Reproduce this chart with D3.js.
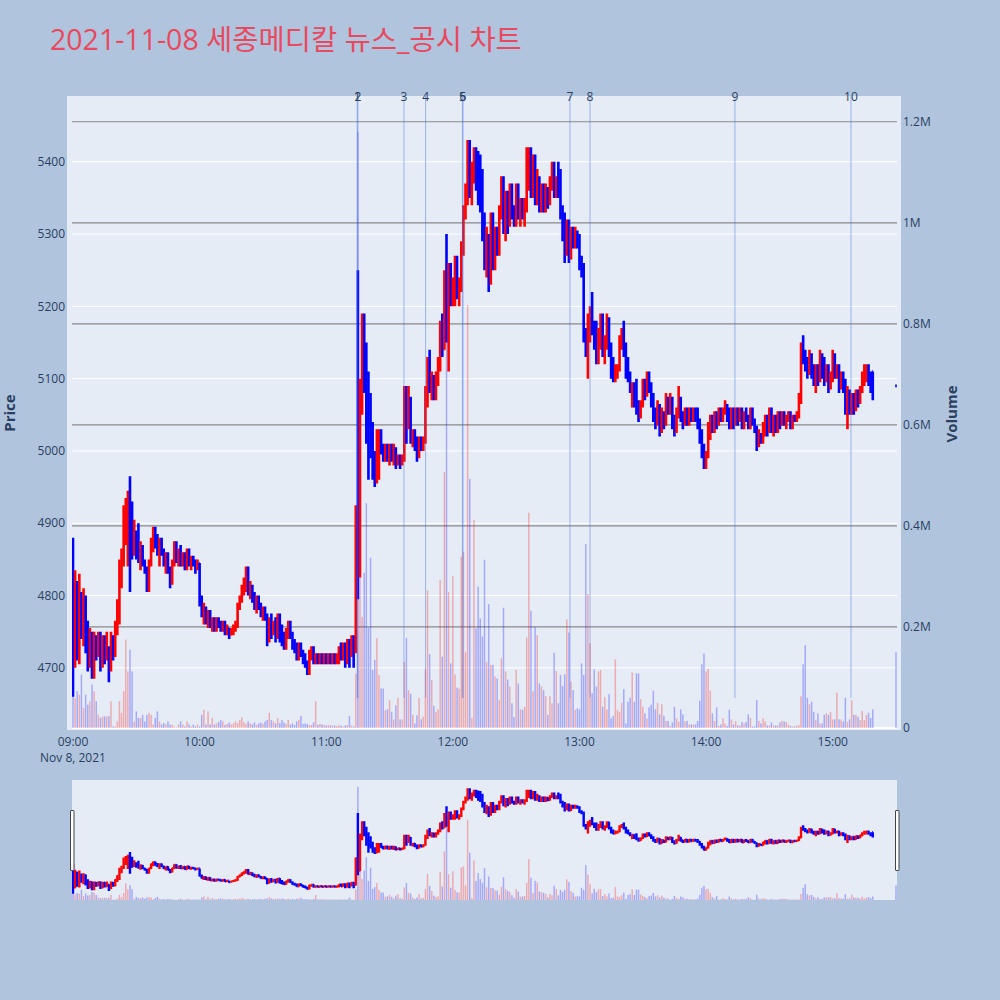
<!DOCTYPE html>
<html>
<head>
<meta charset="utf-8">
<script src="https://cdn.jsdelivr.net/npm/d3@7"></script>
<style>
  body { margin: 0; background: #b0c4de; }
  svg { display: block; }
  text { font-family: "Open Sans", "Noto Sans CJK KR", sans-serif; }
</style>
</head>
<body>
<svg id="chart" width="1000" height="1000"></svg>
<script>
const titleText = "2021-11-08 세종메디칼 뉴스_공시 차트";
const tradeDate = "2021-11-08";
const firstMinute = "09:00";
const closingAuction = "15:30";

// one row per minute from 09:00: [open, high, low, close]
const ohlc = [
  [4875,4880,4660,4705],[4705,4835,4700,4815],[4815,4820,4710,4730],[4730,4830,4705,4800],[4800,4805,4740,4760],
  [4760,4810,4730,4795],[4795,4800,4720,4735],[4735,4765,4695,4705],[4705,4755,4700,4745],[4745,4750,4685,4700],
  [4700,4750,4685,4740],[4740,4745,4710,4720],[4720,4750,4715,4745],[4745,4750,4695,4705],[4705,4745,4700,4740],
  [4740,4745,4705,4715],[4715,4750,4710,4725],[4725,4730,4680,4700],[4700,4750,4695,4740],[4740,4745,4710,4720],
  [4720,4765,4715,4760],[4760,4795,4745,4790],[4790,4850,4760,4830],[4830,4865,4810,4855],[4855,4925,4840,4915],
  [4915,4935,4870,4925],[4925,4945,4840,4935],[4935,4965,4805,4890],[4890,4930,4850,4870],[4870,4905,4855,4880],
  [4880,4890,4850,4860],[4860,4900,4845,4850],[4850,4875,4835,4865],[4865,4870,4840,4845],[4845,4850,4830,4835],
  [4835,4840,4805,4815],[4815,4850,4805,4845],[4845,4880,4840,4875],[4875,4895,4860,4890],[4890,4895,4865,4870],
  [4870,4885,4855,4860],[4860,4880,4840,4875],[4875,4880,4855,4860],[4860,4865,4840,4845],[4845,4860,4830,4855],
  [4855,4860,4830,4835],[4835,4840,4810,4820],[4820,4850,4815,4845],[4845,4875,4840,4870],[4870,4875,4845,4850],
  [4850,4865,4840,4860],[4860,4870,4840,4845],[4845,4860,4840,4855],[4855,4860,4835,4840],[4840,4865,4835,4860],
  [4860,4865,4840,4845],[4845,4855,4835,4850],[4850,4855,4840,4845],[4845,4850,4830,4840],[4840,4850,4835,4845],
  [4845,4845,4785,4790],[4790,4800,4770,4775],[4775,4790,4760,4780],[4780,4785,4760,4765],[4765,4780,4755,4775],
  [4775,4780,4755,4760],[4760,4770,4750,4765],[4765,4770,4750,4755],[4755,4770,4750,4765],[4765,4770,4755,4760],
  [4760,4765,4750,4755],[4755,4765,4750,4760],[4760,4765,4745,4750],[4750,4760,4745,4755],[4755,4755,4740,4745],
  [4745,4755,4745,4750],[4750,4760,4745,4755],[4755,4765,4750,4760],[4760,4790,4755,4785],[4785,4800,4780,4795],
  [4795,4815,4790,4810],[4810,4825,4800,4820],[4820,4840,4805,4830],[4830,4840,4800,4805],[4805,4820,4795,4810],
  [4810,4815,4790,4795],[4795,4805,4780,4790],[4790,4800,4775,4795],[4795,4800,4780,4785],[4785,4790,4770,4775],
  [4775,4785,4765,4780],[4780,4785,4765,4770],[4770,4775,4730,4740],[4740,4770,4735,4765],[4765,4775,4740,4750],
  [4750,4765,4745,4760],[4760,4770,4735,4745],[4745,4775,4740,4770],[4770,4775,4735,4740],[4740,4760,4730,4735],
  [4735,4750,4725,4730],[4730,4755,4725,4750],[4750,4765,4740,4760],[4760,4765,4740,4745],[4745,4750,4725,4730],
  [4730,4740,4720,4725],[4725,4735,4710,4715],[4715,4735,4710,4730],[4730,4735,4715,4720],[4720,4725,4705,4710],
  [4710,4720,4700,4705],[4705,4710,4690,4695],[4695,4725,4690,4720],[4720,4730,4710,4725],[4725,4730,4705,4710],
  [4710,4720,4705,4715],[4715,4720,4705,4710],[4710,4720,4705,4715],[4715,4720,4705,4710],[4710,4720,4705,4715],
  [4715,4720,4705,4710],[4710,4720,4705,4715],[4715,4720,4705,4710],[4710,4720,4705,4715],[4715,4720,4705,4710],
  [4710,4720,4705,4715],[4715,4730,4705,4725],[4725,4735,4710,4715],[4715,4735,4710,4730],[4730,4735,4700,4710],
  [4710,4740,4705,4735],[4735,4740,4700,4720],[4720,4745,4715,4740],[4740,4745,4700,4725],[4725,4925,4720,4920],
  [4920,5250,4795,4830],[4830,5100,4825,5090],[5090,5190,5050,5150],[5150,5190,5080,5100],[5100,5150,5010,5040],
  [5040,5110,4960,5000],[5060,5080,4990,5010],[5010,5040,4960,4990],[4990,5000,4950,4960],[4960,5030,4955,5020],
  [4970,5030,4960,5020],[5020,5030,4995,5000],[5000,5010,4985,4990],[4990,5010,4985,5005],[5005,5010,4985,4990],
  [4990,5010,4980,5000],[5000,5010,4985,4990],[4990,5010,4980,5000],[5000,5005,4975,4985],[4985,4995,4980,4990],
  [4990,4995,4975,4985],[4985,4995,4980,4990],[4990,5090,4985,5080],[5080,5090,5010,5040],[5040,5090,5030,5070],
  [5070,5075,5010,5020],[5020,5030,5005,5025],[5025,5030,5000,5010],[5010,5020,4985,4995],[4995,5020,4990,5015],
  [5015,5020,5000,5005],[5005,5020,5000,5015],[5015,5090,5010,5080],[5080,5130,5060,5110],[5110,5140,5080,5090],
  [5090,5110,5070,5100],[5100,5105,5070,5080],[5080,5110,5070,5100],[5100,5130,5090,5120],[5120,5180,5110,5170],
  [5170,5190,5130,5140],[5140,5250,5140,5240],[5240,5300,5150,5170],[5170,5260,5110,5250],[5250,5260,5200,5210],
  [5210,5240,5200,5230],[5230,5270,5200,5260],[5260,5270,5210,5220],[5220,5240,5200,5230],[5230,5290,5220,5280],
  [5280,5340,5270,5330],[5330,5370,5320,5360],[5360,5430,5340,5420],[5420,5430,5350,5370],[5370,5400,5340,5380],
  [5380,5420,5370,5410],[5410,5420,5360,5380],[5380,5415,5340,5350],[5390,5410,5330,5340],[5340,5390,5290,5300],
  [5300,5330,5250,5270],[5270,5310,5240,5290],[5290,5300,5220,5240],[5240,5330,5230,5320],[5320,5330,5250,5260],
  [5260,5310,5250,5300],[5300,5310,5270,5280],[5280,5340,5270,5330],[5330,5380,5320,5370],[5370,5380,5300,5310],
  [5310,5360,5290,5350],[5350,5360,5300,5320],[5320,5370,5310,5360],[5360,5370,5320,5330],[5330,5340,5310,5320],
  [5320,5370,5310,5360],[5360,5370,5320,5330],[5330,5350,5310,5340],[5340,5350,5320,5330],[5330,5350,5310,5340],
  [5340,5420,5330,5400],[5400,5420,5360,5410],[5410,5420,5350,5360],[5360,5410,5350,5400],[5400,5410,5340,5350],
  [5350,5390,5340,5370],[5370,5380,5330,5340],[5340,5370,5330,5360],[5360,5370,5330,5340],[5340,5370,5330,5360],
  [5360,5365,5335,5345],[5345,5380,5340,5370],[5370,5400,5360,5390],[5390,5400,5350,5360],[5360,5380,5350,5370],
  [5370,5400,5350,5360],[5360,5390,5320,5330],[5330,5340,5290,5300],[5300,5330,5260,5280],[5280,5320,5270,5310],
  [5310,5320,5260,5270],[5270,5310,5265,5300],[5300,5310,5280,5290],[5290,5310,5280,5300],[5300,5305,5280,5290],
  [5290,5300,5250,5260],[5260,5270,5240,5250],[5250,5260,5150,5160],[5160,5170,5130,5140],[5140,5190,5100,5170],
  [5170,5200,5150,5190],[5190,5220,5160,5170],[5170,5180,5140,5150],[5150,5180,5120,5130],[5130,5170,5120,5160],
  [5160,5190,5140,5180],[5180,5190,5130,5140],[5140,5160,5120,5150],[5150,5190,5140,5180],[5180,5185,5130,5140],
  [5140,5150,5100,5110],[5110,5130,5095,5100],[5100,5120,5095,5115],[5105,5120,5100,5115],[5115,5160,5110,5150],
  [5150,5170,5140,5160],[5160,5180,5130,5140],[5140,5150,5100,5110],[5110,5130,5095,5100],[5100,5110,5080,5090],
  [5065,5095,5060,5090],[5090,5095,5060,5070],[5095,5100,5050,5060],[5060,5070,5040,5050],[5050,5070,5045,5065],
  [5065,5100,5060,5090],[5090,5100,5070,5080],[5080,5110,5075,5100],[5100,5110,5080,5085],[5085,5095,5060,5070],
  [5070,5080,5040,5050],[5050,5060,5030,5040],[5040,5070,5035,5060],[5060,5065,5020,5030],[5030,5060,5025,5050],
  [5050,5055,5030,5040],[5040,5080,5035,5070],[5070,5075,5050,5060],[5060,5080,5050,5070],[5070,5075,5030,5040],
  [5040,5050,5020,5030],[5030,5060,5025,5050],[5050,5090,5045,5070],[5070,5075,5040,5050],[5050,5055,5030,5040],
  [5040,5060,5035,5055],[5055,5060,5035,5040],[5040,5060,5035,5055],[5055,5060,5040,5045],[5045,5060,5040,5055],
  [5055,5060,5040,5050],[5050,5060,5030,5040],[5040,5045,5010,5020],[5020,5030,4990,5000],[5000,5010,4975,4980],
  [4980,5000,4975,4995],[4995,5040,4990,5030],[5020,5050,5015,5045],[5045,5050,5025,5030],[5030,5055,5025,5050],
  [5050,5055,5030,5040],[5040,5060,5035,5055],[5055,5060,5040,5045],[5045,5060,5040,5055],[5055,5070,5050,5060],
  [5060,5065,5040,5050],[5050,5060,5030,5035],[5035,5060,5030,5055],[5055,5060,5030,5040],[5040,5060,5035,5055],
  [5055,5060,5035,5045],[5045,5060,5040,5055],[5055,5060,5030,5035],[5035,5055,5030,5050],[5050,5060,5040,5045],
  [5045,5050,5030,5035],[5035,5060,5030,5055],[5055,5060,5035,5040],[5040,5045,5025,5030],[5030,5035,5000,5010],
  [5010,5030,5005,5020],[5020,5025,5010,5015],[5015,5040,5010,5035],[5035,5050,5020,5045],[5045,5050,5020,5030],
  [5030,5060,5025,5055],[5055,5060,5025,5030],[5030,5050,5020,5045],[5045,5050,5025,5030],[5030,5055,5025,5050],
  [5050,5055,5030,5040],[5040,5055,5035,5050],[5050,5055,5035,5040],[5040,5050,5030,5045],[5045,5055,5040,5050],
  [5050,5055,5030,5035],[5035,5050,5030,5045],[5045,5050,5040,5045],[5045,5055,5040,5050],[5050,5080,5045,5070],
  [5070,5150,5065,5140],[5140,5160,5120,5130],[5130,5140,5110,5120],[5120,5130,5100,5110],[5110,5140,5105,5130],
  [5130,5135,5100,5110],[5110,5120,5090,5100],[5100,5120,5080,5110],[5110,5120,5090,5100],[5100,5140,5095,5130],
  [5130,5135,5100,5110],[5110,5130,5090,5100],[5100,5120,5095,5115],[5115,5120,5080,5090],[5090,5110,5085,5100],
  [5100,5140,5095,5130],[5130,5135,5100,5110],[5110,5120,5100,5115],[5115,5120,5080,5090],[5090,5110,5085,5100],
  [5100,5110,5080,5090],[5090,5100,5050,5060],[5060,5090,5030,5080],[5080,5085,5050,5060],[5060,5080,5050,5075],
  [5075,5080,5050,5060],[5060,5085,5055,5080],[5080,5085,5060,5070],[5070,5090,5065,5085],[5085,5110,5080,5100],
  [5100,5120,5090,5110],[5100,5120,5095,5115],[5115,5120,5090,5100],[5100,5110,5080,5090],[5110,5110,5070,5085]
];
// volume per minute, thousands of shares
const volumeK = [
  69,59,73,66,106,40,66,46,53,86, 73,53,26,20,23,23,23,23,53,3,
  3,13,53,30,73,175,112,155,112,13, 33,20,20,26,13,26,30,26,7,20,
  33,13,7,10,7,13,7,7,3,1, 7,13,7,3,13,7,3,7,3,7,
  3,26,36,7,33,7,20,7,9,12, 16,13,6,8,11,7,9,13,10,16,
  21,12,8,13,9,7,11,6,9,11, 8,13,16,30,16,13,9,19,10,16,
  11,8,16,7,9,6,13,16,24,8, 9,8,6,6,11,53,6,8,7,6,
  5,6,5,5,5,4,5,5,3,5, 6,24,5,3,108,1180,300,220,307,445,
  199,337,115,135,178,105,78,78,35,37, 55,32,17,45,60,17,17,131,178,75,
  68,26,9,25,60,17,22,116,272,146, 95,44,32,37,293,141,507,770,269,128,
  301,106,80,78,339,349,150,837,493,20, 412,197,280,217,181,333,131,245,125,125,
  102,98,55,138,238,112,96,82,49,22, 115,88,37,36,42,179,426,232,73,200,
  184,88,82,75,63,26,63,49,149,113, 49,105,83,106,215,189,92,75,36,39,
  37,128,105,364,265,168,69,116,82,112, 115,42,61,37,67,19,24,136,36,32,
  50,77,9,52,60,110,52,108,108,57, 42,29,19,41,46,74,37,50,27,47,
  24,14,14,4,11,42,19,13,37,27, 13,14,7,7,7,7,14,54,126,147,
  112,117,74,29,14,41,4,7,19,9, 4,36,17,7,14,5,5,12,9,12,
  27,20,3,3,55,14,9,19,13,5, 5,11,5,5,5,11,14,13,12,7,
  4,3,3,5,5,63,126,164,60,47, 52,32,16,29,9,9,26,29,26,32,
  17,17,70,17,17,13,60,12,17,55, 26,26,22,16,34,16,26,30,20,37
];
const closingOhlc = [5090,5090,5090,5090];
const closingVolumeK = 150;

const newsTimes = ["11:14:40","11:15:00","11:36:50","11:47:05","12:04:30","12:04:50","12:55:30","13:05:00","14:13:40","15:08:40"];
const newsLabels = ["1","2","3","4","5","6","7","8","9","10"];

const priceTicks = [4700,4800,4900,5000,5100,5200,5300,5400];
const volumeTicks = [0,200000,400000,600000,800000,1000000,1200000];

const UP = "#ff0000", DOWN = "#0000ff", INK = "#2a3f5f";

const [yy, mm, dd] = tradeDate.split("-").map(Number);
function at(hms, addMin) {
  const [h, mi, s] = hms.split(":").map(Number);
  return new Date(yy, mm - 1, dd, h, mi + (addMin || 0), s || 0);
}

const bars = ohlc.map((r, i) => ({
  t: at(firstMinute, i), o: r[0], h: r[1], l: r[2], c: r[3], v: volumeK[i] * 1000
}));
bars.push({ t: at(closingAuction), o: closingOhlc[0], h: closingOhlc[1], l: closingOhlc[2], c: closingOhlc[3], v: closingVolumeK * 1000 });
bars.forEach(d => d.up = d.c > d.o);

const news = newsTimes.map((t, i) => ({ t: at(t), label: newsLabels[i] }));

const svg = d3.select("#chart");

// main plot
const plot = { left: 72, right: 897, top: 96, bottom: 730 };
const slider = { top: 780, bottom: 900 };

const x = d3.scaleTime()
  .domain([bars[0].t, bars[bars.length - 1].t])
  .range([73, 896]);
const yPrice = d3.scaleLinear().domain([4614, 5491]).range([plot.bottom, plot.top]);
const yVol = d3.scaleLinear().domain([0, 1251000]).range([728, plot.top]);

svg.append("text")
  .attr("x", 50).attr("y", 50)
  .attr("font-size", 28.5)
  .attr("fill", "#e9495e")
  .text(titleText);

svg.append("rect")
  .attr("x", 67).attr("y", plot.top)
  .attr("width", 901 - 67).attr("height", plot.bottom - plot.top)
  .attr("fill", "#e5ecf6");

svg.append("defs").append("clipPath").attr("id", "clipMain")
  .append("rect").attr("x", plot.left).attr("y", plot.top)
  .attr("width", plot.right - plot.left).attr("height", plot.bottom - plot.top);

const grid = svg.append("g");
grid.selectAll(".pg").data(priceTicks).enter().append("line")
  .attr("x1", plot.left).attr("x2", plot.right)
  .attr("y1", d => yPrice(d)).attr("y2", d => yPrice(d))
  .attr("stroke", "#ffffff").attr("stroke-width", 1);
grid.selectAll(".vg").data(volumeTicks.filter(v => v > 0)).enter().append("line")
  .attr("x1", plot.left).attr("x2", plot.right)
  .attr("y1", d => yVol(d)).attr("y2", d => yVol(d))
  .attr("stroke", "#8a8a8a").attr("stroke-width", 1.2);
grid.append("line")
  .attr("x1", plot.left).attr("x2", plot.right)
  .attr("y1", yVol(0)).attr("y2", yVol(0))
  .attr("stroke", "#ffffff").attr("stroke-width", 2);

function drawVolume(g, ys, w) {
  g.selectAll("rect").data(bars).enter().append("rect")
    .attr("x", d => x(d.t) - w / 2)
    .attr("width", w)
    .attr("y", d => ys(d.v))
    .attr("height", d => ys(0) - ys(d.v))
    .attr("fill", d => d.up ? UP : DOWN)
    .attr("fill-opacity", 0.28);
}

function drawOhlc(g, ys, sw, tick) {
  g.selectAll("path").data(bars).enter().append("path")
    .attr("d", d => {
      const cx = x(d.t);
      return `M${cx - tick},${ys(d.o)}H${cx}M${cx},${ys(d.h)}V${ys(d.l)}M${cx},${ys(d.c)}H${cx + tick}`;
    })
    .attr("fill", "none")
    .attr("stroke", d => d.up ? UP : DOWN)
    .attr("stroke-width", sw);
}

const main = svg.append("g").attr("clip-path", "url(#clipMain)");
drawVolume(main.append("g"), yVol, 1.5);
drawOhlc(main.append("g"), yPrice, 2.6, 0.8);

// news markers
const newsG = svg.append("g");
newsG.selectAll("line").data(news).enter().append("line")
  .attr("x1", d => x(d.t)).attr("x2", d => x(d.t))
  .attr("y1", plot.top).attr("y2", 698)
  .attr("stroke", "royalblue").attr("stroke-opacity", 0.45).attr("stroke-width", 1);
newsG.selectAll("text").data(news).enter().append("text")
  .attr("x", d => x(d.t)).attr("y", 101)
  .attr("text-anchor", "middle")
  .attr("font-size", 12)
  .attr("fill", INK)
  .text(d => d.label);

// axes
const axG = svg.append("g").attr("font-size", 12).attr("fill", INK);
axG.selectAll(".pt").data(priceTicks).enter().append("text")
  .attr("x", 65).attr("y", d => yPrice(d)).attr("dy", "0.35em")
  .attr("text-anchor", "end").text(d => d);
const fmtVol = v => v === 0 ? "0" : d3.format("~g")(v / 1e6) + "M";
axG.selectAll(".vt").data(volumeTicks).enter().append("text")
  .attr("x", 903).attr("y", d => yVol(d)).attr("dy", "0.35em")
  .attr("text-anchor", "start").text(fmtVol);
const hourTicks = x.ticks(d3.timeHour.every(1));
axG.selectAll(".xt").data(hourTicks).enter().append("text")
  .attr("x", d => x(d)).attr("y", 746)
  .attr("text-anchor", "middle").text(d3.timeFormat("%H:%M"));
axG.append("text")
  .attr("x", x(hourTicks[0])).attr("y", 762)
  .attr("text-anchor", "middle").text(d3.timeFormat("%b %-d, %Y")(hourTicks[0]));

svg.append("text")
  .attr("transform", "translate(15,413) rotate(-90)")
  .attr("text-anchor", "middle").attr("font-size", 15).attr("font-weight", "bold")
  .attr("fill", INK).text("Price");
svg.append("text")
  .attr("transform", "translate(957,414) rotate(-90)")
  .attr("text-anchor", "middle").attr("font-size", 15).attr("font-weight", "bold")
  .attr("fill", INK).text("Volume");

// range slider
const ySP = d3.scaleLinear().domain(yPrice.domain()).range([slider.bottom, slider.top]);
const ySV = d3.scaleLinear().domain(yVol.domain()).range([slider.bottom, slider.top]);
svg.append("rect")
  .attr("x", plot.left).attr("y", slider.top)
  .attr("width", plot.right - plot.left).attr("height", slider.bottom - slider.top)
  .attr("fill", "#e5ecf6");
svg.select("defs").append("clipPath").attr("id", "clipSlider")
  .append("rect").attr("x", plot.left).attr("y", slider.top)
  .attr("width", plot.right - plot.left).attr("height", slider.bottom - slider.top);
const mini = svg.append("g").attr("clip-path", "url(#clipSlider)");
drawVolume(mini.append("g"), ySV, 1.5);
drawOhlc(mini.append("g"), ySP, 2.4, 0.8);

[plot.left - 2, plot.right - 2].forEach(hx => {
  svg.append("rect")
    .attr("x", hx + 0.5).attr("y", 810.5)
    .attr("width", 3.5).attr("height", 60)
    .attr("rx", 0.5)
    .attr("fill", "#ffffff").attr("stroke", "#444").attr("stroke-width", 1);
});
</script>
</body>
</html>
